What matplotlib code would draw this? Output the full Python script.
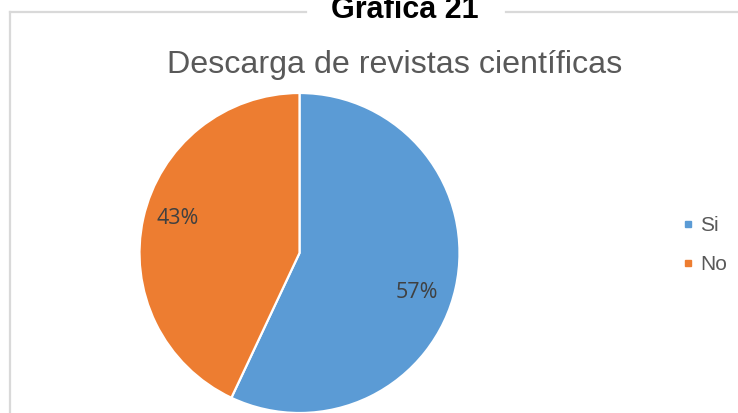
import matplotlib
matplotlib.use('Agg')
import matplotlib.pyplot as plt
from matplotlib.lines import Line2D

labels = ['Si', 'No']
values = [57, 43]
colors = ['#5B9BD5', '#ED7D31']

W, H = 738, 413
fig = plt.figure(figsize=(W / 100, H / 100), dpi=100)

# light grey frame, broken where the caption sits
frame_kw = dict(color='#d9d9d9', lw=1.6, transform=fig.transFigure)
y_top = 1 - 12 / H
x_left = 10 / W
fig.add_artist(Line2D([x_left, x_left], [0, y_top], **frame_kw))
fig.add_artist(Line2D([x_left, 306 / W], [y_top, y_top], **frame_kw))
fig.add_artist(Line2D([506 / W, 1], [y_top, y_top], **frame_kw))

fig.text(404.5 / W, 1 - 18 / H, 'Gráfica 21', ha='center', va='baseline',
         fontsize=22, fontweight='bold', family='Liberation Sans', color='black')
fig.text(395 / W, 1 - 73 / H, 'Descarga de revistas científicas', ha='center',
         va='baseline', fontsize=23.2, family='Liberation Sans', color='#595959')

cx, cy, r = 299.5, 253, 160
ax = fig.add_axes([(cx - r) / W, (H - cy - r) / H, 2 * r / W, 2 * r / H])
wedges, _, autotexts = ax.pie(values, colors=colors, startangle=90, counterclock=False,
                              autopct='%1.0f%%', pctdistance=0.78,
                              wedgeprops=dict(edgecolor='white', linewidth=1.6),
                              textprops=dict(fontsize=15.5, color='#404040', family='Open Sans'))
# excel's "best fit" label spots sit a bit off the wedge middles
autotexts[0].set_position((0.735, -0.245))
autotexts[1].set_position((-0.76, 0.215))
ax.set_xlim(-1, 1)
ax.set_ylim(-1, 1)

handles = [Line2D([], [], marker='s', ls='', color=c, markersize=5) for c in colors]
fig.legend(handles, labels, loc='center left', bbox_to_anchor=(663 / W, 1 - 245 / H),
           frameon=False, labelcolor='#595959', handlelength=0.6,
           handletextpad=0.3, labelspacing=0.95, prop=dict(family='Liberation Sans', size=15))

fig.savefig('out.png', dpi=100)
